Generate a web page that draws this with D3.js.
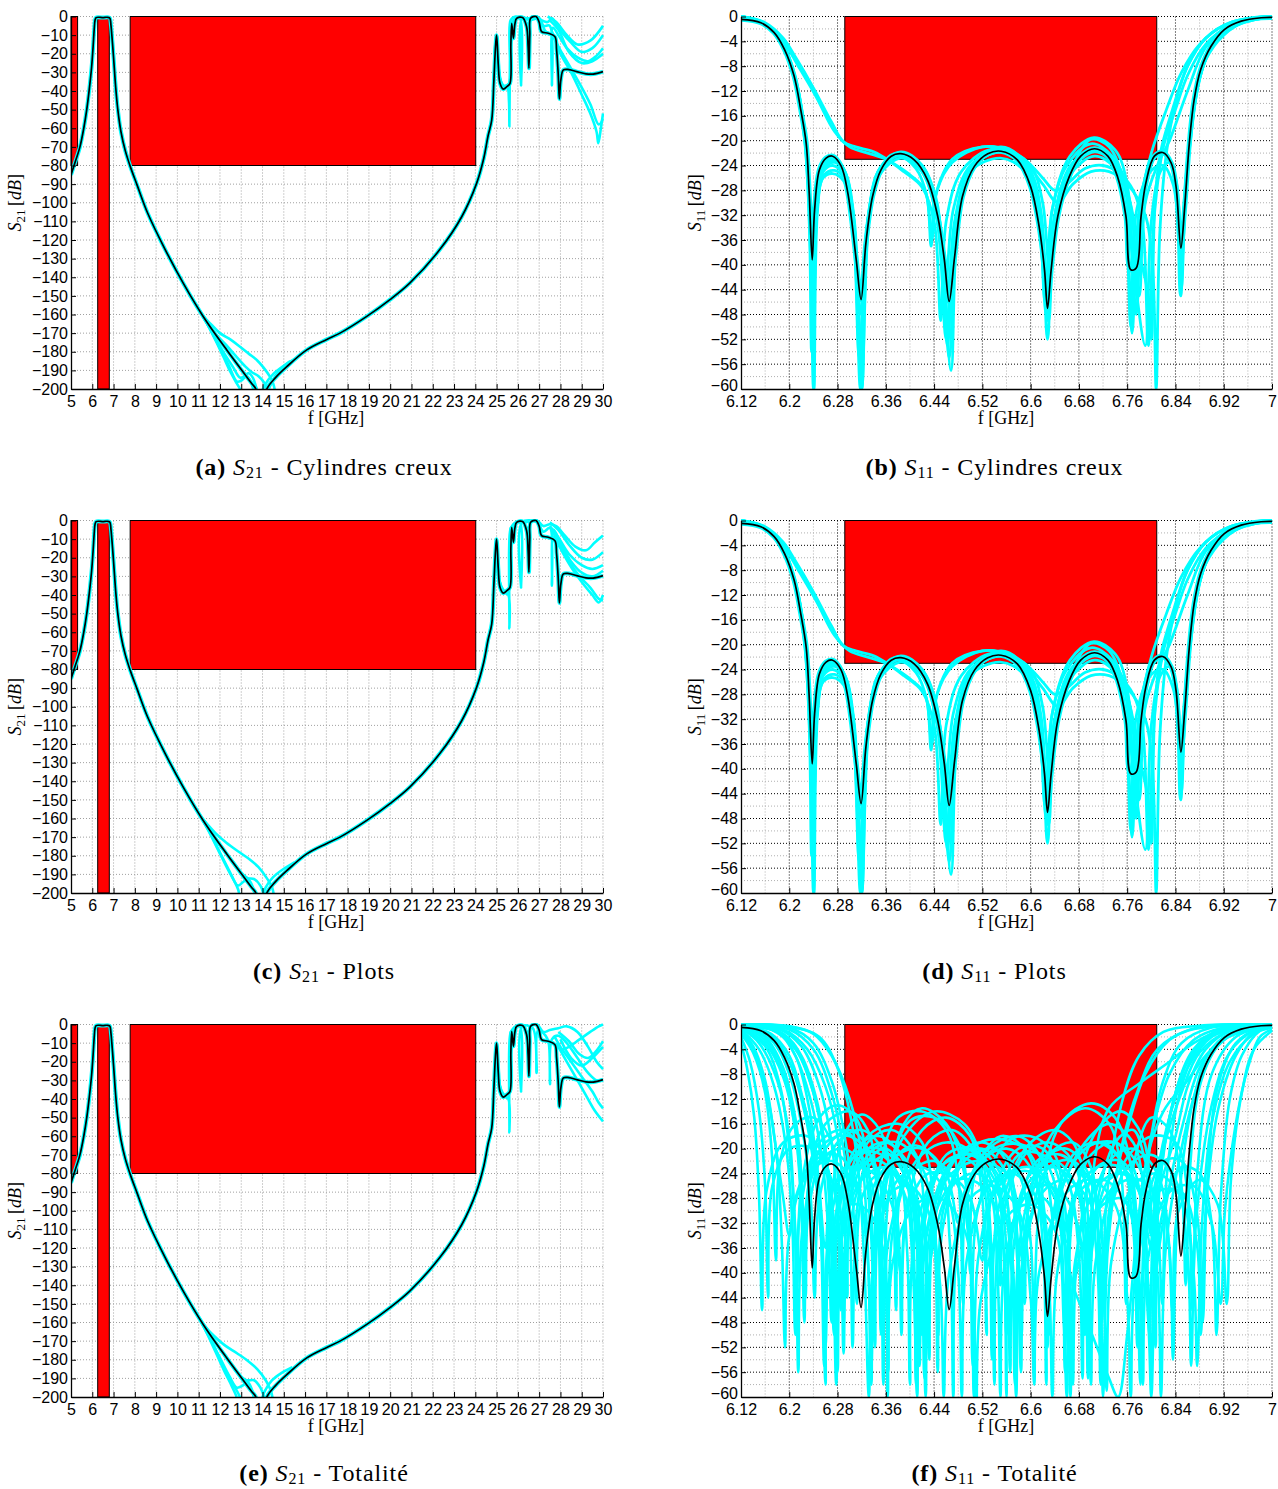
<!DOCTYPE html>
<html><head><meta charset="utf-8">
<script src="https://cdn.jsdelivr.net/npm/d3@7"></script>
<style>body{margin:0;background:#fff}svg{display:block}</style>
</head><body>
<svg id="c" width="1278" height="1489"></svg>
<script>
// ---------------- tick values & labels ----------------
const s21XTicks=[5,6,7,8,9,10,11,12,13,14,15,16,17,18,19,20,21,22,23,24,25,26,27,28,29,30];
const s21XLabels=['5','6','7','8','9','10','11','12','13','14','15','16','17','18','19','20','21','22','23','24','25','26','27','28','29','30'];
const s21YTicks=[0,-10,-20,-30,-40,-50,-60,-70,-80,-90,-100,-110,-120,-130,-140,-150,-160,-170,-180,-190,-200];
const s21YLabels=['0','−10','−20','−30','−40','−50','−60','−70','−80','−90','−100','−110','−120','−130','−140','−150','−160','−170','−180','−190','−200'];
const s11XTicks=[6.12,6.2,6.28,6.36,6.44,6.52,6.6,6.68,6.76,6.84,6.92,7];
const s11XLabels=['6.12','6.2','6.28','6.36','6.44','6.52','6.6','6.68','6.76','6.84','6.92','7'];
const s11XMinor=[6.16,6.24,6.32,6.4,6.48,6.56,6.64,6.72,6.8,6.88,6.96];
const s11YTicks=[0,-4,-8,-12,-16,-20,-24,-28,-32,-36,-40,-44,-48,-52,-56,-60];
const s11YLabels=['0','−4','−8','−12','−16','−20','−24','−28','−32','−36','−40','−44','−48','−52','−56','−60'];
const s11YMinor=[-2,-6,-10,-14,-18,-22,-26,-30,-34,-38,-42,-46,-50,-54,-58];

// ---------------- masks [f1, f2, dBtop, dBbottom] ----------------
const s21Masks=[[5,5.31,0,-80],[6.255,6.8,-1,-200],[7.78,24.02,0,-80]];
const s11Masks=[[6.292,6.809,0,-23]];

// ---------------- nominal responses (black) ----------------
const s21Nominal=[[5.0,-85],[5.2,-78],[5.42,-70],[5.6,-60],[5.74,-50],[5.86,-39],[5.97,-27],[6.04,-16],[6.09,-7],[6.13,-2],[6.18,-0.6],[6.3,-0.4],[6.5,-0.6],[6.7,-0.4],[6.82,-0.8],[6.88,-5],[6.94,-13],[7.0,-22],[7.1,-38],[7.2,-50],[7.35,-62],[7.55,-72],[7.8,-81],[8.09,-90],[8.6,-105.5],[9.42,-125],[10.28,-143.3],[11.22,-161.2],[12.32,-179.1],[13.49,-197],[13.69,-200],[13.95,-212],[14.2,-200],[14.6,-194],[15.14,-188],[16.08,-179],[17.0,-173.5],[17.64,-170],[18.9,-161],[19.99,-152],[20.93,-143],[22.34,-125],[23.36,-107.5],[24.06,-89.6],[24.4,-76],[24.6,-64],[24.77,-55.6],[24.87,-35],[24.95,-16],[25.0,-10],[25.08,-26],[25.16,-35.9],[25.31,-39],[25.5,-37.5],[25.63,-35.9],[25.67,-15],[25.71,-3.7],[25.79,-11.7],[25.86,-4],[25.94,-1],[26.22,-0.5],[26.41,-5.5],[26.48,-16],[26.52,-27.8],[26.56,-10],[26.6,-1],[26.85,0],[27.0,-3],[27.11,-8.1],[27.43,-9],[27.74,-10.8],[27.82,-18],[27.9,-32],[27.95,-44.3],[28.02,-34],[28.14,-28.7],[28.4,-28.5],[28.76,-29.6],[29.2,-30.8],[29.54,-30.9],[30.0,-29.6]];

const s11Nominal=[[6.12,-0.45],[6.153,-1.0],[6.175,-2.6],[6.192,-5.3],[6.208,-9.6],[6.219,-15],[6.228,-20.4],[6.233,-28.4],[6.238,-39.2],[6.242,-31.1],[6.25,-24.7],[6.261,-22.8],[6.272,-22.5],[6.286,-24.1],[6.297,-28.4],[6.311,-39.2],[6.319,-45.6],[6.327,-36.5],[6.338,-29],[6.352,-24.7],[6.369,-22.5],[6.385,-22.1],[6.407,-23.1],[6.429,-26.3],[6.446,-32.2],[6.457,-39.2],[6.465,-45.9],[6.474,-38.7],[6.487,-29],[6.507,-24.1],[6.529,-22.1],[6.551,-21.7],[6.578,-23.1],[6.6,-27.4],[6.614,-33.8],[6.623,-40.8],[6.628,-47],[6.634,-40.8],[6.645,-32.2],[6.664,-25.8],[6.683,-22.5],[6.706,-21.3],[6.728,-22.5],[6.744,-25.8],[6.758,-32.2],[6.766,-40.8],[6.775,-40.5],[6.783,-32.2],[6.791,-26.8],[6.805,-22.5],[6.819,-21.9],[6.833,-23.6],[6.841,-27.4],[6.849,-37.3],[6.855,-31.1],[6.863,-20.4],[6.871,-13.4],[6.882,-8.5],[6.899,-4.8],[6.921,-2.1],[6.949,-0.75],[6.982,-0.2],[7.0,-0.15]];

// ---------------- cyan Monte-Carlo responses: S21 ----------------
const s21BottomA=[
 [[10.9,-155],[11.2,-161],[11.38,-164.7],[11.8,-174],[12.16,-182.7],[12.5,-191],[12.79,-197],[12.94,-200],[13.0,-203]],
 [[11.1,-159],[11.3,-162],[11.6,-165.5],[12.0,-170],[12.5,-173.5],[12.94,-177.3],[13.35,-181],[13.73,-184.4],[14.05,-188.5],[14.35,-193.4],[14.5,-197],[14.6,-202]],
 [[11.1,-159],[11.4,-164],[11.8,-170.5],[12.3,-176.5],[12.8,-183],[13.2,-188],[13.5,-191],[13.8,-193],[14.1,-197],[14.3,-203]],
 [[11.2,-161],[11.6,-169],[12.1,-179],[12.6,-188],[12.95,-194],[13.15,-193],[13.35,-191.5],[13.55,-194],[13.7,-199],[13.8,-203]],
 [[11.15,-160],[11.5,-167],[12.0,-178],[12.4,-187],[12.8,-196],[13.0,-195.5],[13.25,-193],[13.45,-196],[13.6,-202]],
 [[13.9,-204],[14.1,-198],[14.5,-192],[15.0,-187.5],[15.5,-184]],
 [[14.2,-203],[14.45,-196],[14.8,-190],[15.3,-185]]
];
const s21HfA=[
 [[24.9,-20],[25.0,-10],[25.1,-30],[25.3,-38],[25.5,-38],[25.58,-45],[25.6,-59],[25.63,-20],[25.66,-3],[25.75,-9],[25.9,-1],[26.2,-0.5],[26.4,-4],[26.5,-18],[26.58,-1],[26.9,0],[27.1,-2],[27.4,-3],[27.6,-1],[27.8,-4],[28.1,-9],[28.5,-14],[29.0,-19],[29.5,-17],[30,-10]],
 [[25.0,-10],[25.1,-28],[25.3,-37],[25.58,-36],[25.66,-2],[25.9,0],[26.1,-1],[26.15,-37],[26.2,-1],[26.5,-1],[26.9,-1],[27.2,-5],[27.5,-5],[27.6,-37],[27.65,-6],[27.9,-10],[28.3,-17],[28.8,-22],[29.3,-24],[29.7,-21],[30,-17]],
 [[25.0,-11],[25.15,-33],[25.4,-38],[25.6,-37],[25.68,-5],[25.9,-1],[26.3,-1],[26.6,-2],[27.0,-1],[27.3,-8],[27.6,-10],[27.8,-14],[28.0,-20],[28.5,-30],[29.0,-42],[29.4,-52],[29.7,-62],[29.78,-68],[29.9,-60],[30,-52]],
 [[27.6,-8],[27.9,-16],[28.4,-26],[28.9,-36],[29.4,-47],[29.8,-58],[30,-55]],
 [[27.5,-2],[27.9,-7],[28.4,-19],[29.0,-25],[29.5,-24],[30,-20]],
 [[27.4,0],[27.8,-3],[28.3,-10],[28.8,-15],[29.4,-13],[30,-5]]
];
const s21BottomC=[
 [[10.9,-155],[11.2,-161],[11.45,-166],[11.9,-176],[12.3,-185],[12.65,-193],[12.85,-198],[12.95,-203]],
 [[11.1,-159],[11.4,-163],[11.8,-168],[12.3,-173],[12.9,-178],[13.4,-182],[13.8,-186],[14.2,-192],[14.45,-197],[14.55,-203]],
 [[11.2,-161],[11.6,-168],[12.1,-176],[12.6,-183],[13.0,-189],[13.3,-192],[13.6,-192.5],[13.9,-196],[14.1,-203]],
 [[11.15,-160],[11.55,-168.5],[12.05,-180],[12.5,-190],[12.85,-196],[13.1,-194],[13.35,-193],[13.55,-197],[13.65,-203]],
 [[13.95,-204],[14.15,-197],[14.5,-191.5],[15.0,-187],[15.5,-183.5]]
];
const s21HfC=[
 [[25.0,-10],[25.1,-30],[25.3,-38],[25.55,-40],[25.6,-58],[25.65,-4],[25.8,-9],[25.95,-1],[26.3,-1],[26.9,0],[27.2,-3],[27.5,-2],[27.8,-3],[28.2,-8],[28.7,-14],[29.2,-16],[29.6,-12],[30,-8]],
 [[25.0,-11],[25.15,-33],[25.4,-38],[25.6,-37],[25.68,-4],[25.9,-1],[26.1,-1],[26.15,-36],[26.2,-1],[26.9,-1],[27.2,-6],[27.5,-4],[27.6,-35],[27.68,-5],[28.0,-12],[28.5,-22],[29.0,-28],[29.5,-30],[30,-27]],
 [[27.6,-5],[27.9,-12],[28.4,-22],[28.9,-30],[29.4,-36],[29.8,-42],[30,-43]],
 [[27.7,-8],[28.0,-15],[28.5,-25],[29.0,-33],[29.5,-40],[29.8,-44],[30,-40]],
 [[27.5,-1],[27.9,-5],[28.4,-13],[29.0,-20],[29.5,-21],[30,-17]],
 [[27.5,-3],[27.9,-9],[28.4,-18],[29,-24],[29.5,-26],[30,-24]]
];
const s21BottomE=[
 [[10.8,-153],[11.1,-159],[11.4,-166],[11.8,-176],[12.2,-186],[12.55,-194],[12.75,-199],[12.85,-203]],
 [[11.0,-157],[11.3,-162],[11.7,-167],[12.2,-172],[12.8,-176.5],[13.3,-180.5],[13.75,-185],[14.15,-191],[14.4,-197],[14.5,-203]],
 [[11.1,-159],[11.5,-166],[12.0,-174],[12.5,-182],[12.9,-188],[13.25,-191],[13.6,-191],[13.9,-195],[14.15,-203]],
 [[11.1,-159.5],[11.5,-168],[12.0,-179],[12.45,-189],[12.8,-195],[13.05,-194],[13.3,-192],[13.5,-196],[13.62,-203]],
 [[11.2,-161],[11.6,-170],[12.1,-182],[12.5,-191],[12.9,-199],[13.0,-203]],
 [[13.9,-204],[14.1,-197],[14.45,-191],[14.9,-187],[15.4,-184]]
];
const s21HfE=[
 [[25.0,-10],[25.1,-29],[25.3,-38],[25.55,-40],[25.6,-58],[25.65,-4],[25.8,-9],[25.95,-1],[26.3,-1],[26.5,-14],[26.6,-1],[26.9,0],[27.2,-4],[27.5,-3],[27.9,-2],[28.3,-1],[28.8,-4],[29.3,-12],[29.7,-20],[30,-24]],
 [[25.0,-11],[25.15,-33],[25.4,-38],[25.6,-37],[25.68,-4],[25.9,-1],[26.1,-1],[26.15,-36],[26.2,-1],[26.7,-2],[26.88,-26],[26.95,-3],[27.3,-6],[27.45,-10],[27.51,-32],[27.6,-8],[27.9,-6],[28.3,-10],[28.8,-18],[29.3,-26],[29.7,-30],[30,-30]],
 [[27.7,-6],[28.0,-12],[28.5,-20],[29.0,-28],[29.5,-36],[29.8,-42],[30,-45]],
 [[27.8,-10],[28.2,-18],[28.7,-28],[29.2,-38],[29.6,-46],[30,-52]],
 [[28.0,-14],[28.4,-12],[28.9,-8],[29.4,-4],[29.8,-1],[30,0]],
 [[27.9,-4],[28.4,-9],[28.9,-16],[29.3,-18],[29.7,-14],[30,-9]],
 [[28.0,-8],[28.5,-18],[29.0,-22],[29.5,-18],[30,-12]]
];

// ---------------- cyan Monte-Carlo responses: S11 (b, d) ----------------
const s11CyanBD=[
 [[6.12,0],[6.16,-1.2],[6.19,-4.6],[6.21,-10],[6.225,-18],[6.234,-30],[6.24,-60],[6.246,-30],[6.256,-24],[6.272,-22.8],[6.29,-24.5],[6.306,-32],[6.32,-60],[6.332,-32],[6.35,-25],[6.385,-22.3],[6.42,-24.5],[6.448,-32],[6.462,-53],[6.476,-33],[6.5,-24.5],[6.55,-21.8],[6.59,-24],[6.615,-33],[6.628,-49],[6.64,-33],[6.665,-25],[6.706,-21.8],[6.74,-24],[6.758,-32],[6.768,-51],[6.78,-31],[6.8,-23.5],[6.82,-22],[6.837,-25],[6.845,-32],[6.849,-45],[6.855,-30],[6.863,-20],[6.872,-13],[6.885,-7.5],[6.91,-3],[6.95,-0.8],[7,0]],
 [[6.12,0],[6.16,-1.0],[6.19,-3.5],[6.21,-6.5],[6.24,-11.5],[6.27,-17],[6.29,-20.2],[6.31,-21],[6.34,-21.8],[6.37,-23.5],[6.4,-25.5],[6.425,-28],[6.436,-36],[6.445,-28],[6.47,-23.5],[6.52,-21],[6.56,-21.5],[6.6,-24],[6.62,-30],[6.632,-42],[6.644,-30],[6.67,-23.5],[6.71,-21.5],[6.745,-24],[6.765,-30],[6.78,-45],[6.79,-30],[6.81,-24],[6.83,-20],[6.86,-12],[6.89,-5],[6.93,-1.5],[7,0]],
 [[6.12,0],[6.16,-1.1],[6.19,-4],[6.215,-8],[6.245,-13],[6.275,-18.5],[6.3,-21],[6.33,-22],[6.36,-23],[6.39,-25],[6.42,-27.5],[6.44,-33],[6.451,-49],[6.46,-33],[6.485,-25],[6.53,-21.5],[6.57,-22],[6.6,-25],[6.618,-32],[6.626,-46],[6.636,-31],[6.66,-24],[6.7,-20.5],[6.735,-22.5],[6.76,-29],[6.775,-48],[6.785,-30],[6.8,-23],[6.82,-22],[6.84,-26],[6.85,-40],[6.857,-28],[6.866,-19],[6.88,-10],[6.9,-5],[6.94,-1.5],[7,0]],
 [[6.12,0],[6.16,-1.3],[6.19,-4.8],[6.21,-10.5],[6.225,-19],[6.234,-32],[6.239,-55],[6.245,-32],[6.258,-25.5],[6.275,-24.8],[6.29,-26],[6.306,-34],[6.318,-60],[6.33,-33],[6.35,-25],[6.38,-22.5],[6.41,-24.5],[6.428,-29],[6.435,-37],[6.442,-29],[6.47,-23],[6.52,-21],[6.56,-21.5],[6.6,-25],[6.618,-33],[6.63,-49],[6.642,-32],[6.67,-24],[6.7,-19.8],[6.73,-21],[6.755,-27],[6.77,-40],[6.79,-53],[6.8,-33],[6.815,-25],[6.83,-23.5],[6.84,-27],[6.848,-45],[6.855,-29],[6.866,-18],[6.88,-10],[6.9,-5],[6.94,-1.5],[7,0]],
 [[6.12,0],[6.16,-1.2],[6.19,-4.6],[6.21,-10],[6.225,-18.5],[6.234,-31],[6.24,-45],[6.246,-31],[6.256,-25],[6.272,-24],[6.29,-25.5],[6.306,-33],[6.319,-52],[6.331,-33],[6.35,-25],[6.385,-22],[6.42,-24],[6.445,-30],[6.458,-45],[6.472,-31],[6.5,-24],[6.55,-21.2],[6.59,-23],[6.62,-26],[6.64,-28],[6.66,-27],[6.69,-24.5],[6.72,-24],[6.75,-25.5],[6.77,-28],[6.785,-33],[6.795,-53],[6.805,-32],[6.82,-21],[6.84,-15],[6.86,-9.5],[6.89,-4.5],[6.93,-1.5],[7,0]],
 [[6.12,0],[6.16,-1.2],[6.19,-4.5],[6.21,-9.8],[6.226,-19],[6.235,-33],[6.241,-60],[6.247,-31],[6.258,-24.5],[6.275,-23.5],[6.292,-25],[6.308,-33],[6.32,-60],[6.332,-33],[6.35,-24.5],[6.385,-21.8],[6.42,-24],[6.448,-33],[6.468,-57],[6.48,-33],[6.505,-24],[6.55,-21.5],[6.59,-23.5],[6.62,-27],[6.645,-30],[6.67,-27],[6.7,-25],[6.73,-25],[6.76,-27],[6.79,-32],[6.802,-40],[6.808,-60],[6.814,-35],[6.825,-22],[6.84,-14],[6.86,-8],[6.89,-3.5],[6.93,-1],[7,0]],
 [[6.12,0],[6.16,-1.3],[6.19,-4.7],[6.21,-10.2],[6.226,-19.5],[6.235,-33],[6.24,-52],[6.246,-31],[6.257,-24.5],[6.273,-23.3],[6.29,-25],[6.305,-31],[6.317,-48],[6.33,-33],[6.35,-24.5],[6.385,-22],[6.42,-24],[6.447,-32],[6.463,-50],[6.476,-34],[6.5,-24.5],[6.55,-21],[6.585,-23],[6.612,-31],[6.624,-46],[6.636,-31],[6.665,-22.5],[6.705,-19.5],[6.74,-21.5],[6.76,-27],[6.772,-45],[6.782,-30],[6.8,-22],[6.825,-15],[6.85,-9],[6.88,-4.5],[6.92,-1.5],[7,0]],
 [[6.12,0],[6.16,-1.3],[6.19,-4.8],[6.21,-10.5],[6.225,-19.5],[6.233,-32],[6.237,-54],[6.244,-32],[6.256,-26],[6.272,-25.3],[6.29,-26.5],[6.305,-33],[6.316,-55],[6.33,-33],[6.35,-25.5],[6.385,-22.8],[6.42,-25],[6.445,-33],[6.46,-52],[6.474,-33],[6.5,-25],[6.55,-22.8],[6.59,-25],[6.614,-34],[6.626,-48],[6.638,-33],[6.665,-25.5],[6.706,-22.5],[6.74,-24.5],[6.756,-31],[6.766,-50],[6.776,-31],[6.8,-24.8],[6.82,-24],[6.836,-27],[6.845,-34],[6.85,-44],[6.856,-30],[6.865,-19.5],[6.876,-12],[6.89,-7],[6.92,-3],[6.96,-0.6],[7,0]],
 [[6.12,0],[6.16,-1.2],[6.19,-4.6],[6.21,-10],[6.225,-18.5],[6.234,-31],[6.239,-48],[6.245,-31],[6.256,-24.5],[6.272,-23],[6.29,-24.5],[6.306,-32],[6.319,-58],[6.33,-33],[6.35,-24.5],[6.385,-22.2],[6.42,-24.2],[6.448,-33],[6.465,-55],[6.478,-33],[6.5,-24.5],[6.55,-21.8],[6.59,-23.5],[6.615,-32],[6.628,-52],[6.64,-32],[6.665,-24.5],[6.706,-21.2],[6.74,-23.5],[6.765,-30],[6.78,-38],[6.795,-45],[6.8,-52],[6.806,-30],[6.815,-22],[6.835,-15],[6.86,-8],[6.89,-3.5],[6.93,-1],[7,0]]
];

// ---------------- cyan Monte-Carlo responses: S11 (f, totality) ----------------
const s11CyanF=[
 [[6.12,-0.3],[6.16,-2],[6.19,-7],[6.21,-15],[6.22,-24],[6.227,-44],[6.234,-24],[6.26,-16],[6.3,-14],[6.33,-17],[6.345,-26],[6.352,-50],[6.36,-26],[6.4,-15.5],[6.44,-15],[6.48,-19],[6.497,-30],[6.504,-55],[6.512,-30],[6.56,-19],[6.6,-18],[6.64,-21],[6.655,-32],[6.662,-52],[6.67,-30],[6.71,-17],[6.75,-14],[6.785,-18],[6.8,-30],[6.806,-46],[6.814,-26],[6.84,-11],[6.87,-4],[6.91,-1],[6.96,-0.2],[7,0]],
 [[6.12,0],[6.2,-0.8],[6.24,-4],[6.27,-11],[6.29,-20],[6.3,-30],[6.305,-52],[6.312,-30],[6.33,-22],[6.36,-20],[6.39,-24],[6.405,-34],[6.41,-58],[6.418,-33],[6.45,-23],[6.5,-21],[6.54,-25],[6.555,-36],[6.56,-60],[6.566,-36],[6.6,-24],[6.64,-22],[6.675,-26],[6.69,-38],[6.695,-57],[6.702,-36],[6.73,-25],[6.76,-24],[6.775,-30],[6.782,-46],[6.79,-28],[6.8,-18],[6.82,-9],[6.85,-3],[6.9,-0.5],[7,0]],
 [[6.12,-1.5],[6.14,-4.5],[6.16,-11],[6.172,-22],[6.178,-38],[6.185,-22],[6.21,-16],[6.24,-15],[6.27,-19],[6.285,-30],[6.29,-48],[6.297,-30],[6.33,-19],[6.37,-17],[6.41,-21],[6.425,-33],[6.432,-54],[6.44,-32],[6.48,-21],[6.52,-19],[6.56,-22],[6.578,-34],[6.585,-50],[6.592,-32],[6.63,-21],[6.67,-19],[6.7,-23],[6.712,-35],[6.718,-48],[6.726,-28],[6.75,-13],[6.78,-5],[6.82,-1.2],[6.88,-0.2],[7,0]],
 [[6.12,0],[6.2,-0.3],[6.24,-1.5],[6.27,-5],[6.3,-12],[6.32,-21],[6.33,-36],[6.336,-55],[6.344,-33],[6.37,-22],[6.41,-19.5],[6.45,-23],[6.466,-35],[6.472,-60],[6.48,-34],[6.52,-22],[6.56,-20],[6.6,-23],[6.62,-35],[6.626,-58],[6.633,-33],[6.67,-21],[6.71,-19],[6.75,-22],[6.77,-33],[6.777,-52],[6.785,-32],[6.82,-22],[6.85,-22],[6.875,-30],[6.885,-48],[6.893,-25],[6.91,-10],[6.94,-3],[6.98,-0.5],[7,-0.2]],
 [[6.12,-0.6],[6.15,-3],[6.18,-9],[6.2,-18],[6.208,-30],[6.213,-42],[6.22,-26],[6.25,-15],[6.28,-13],[6.31,-15],[6.33,-22],[6.34,-38],[6.348,-24],[6.38,-15],[6.42,-14],[6.46,-17],[6.48,-25],[6.488,-45],[6.496,-27],[6.54,-20],[6.59,-19.5],[6.63,-23],[6.65,-33],[6.657,-56],[6.665,-32],[6.7,-21],[6.74,-19],[6.77,-23],[6.79,-34],[6.797,-50],[6.805,-30],[6.83,-15],[6.86,-6],[6.9,-1.5],[6.95,-0.3],[7,0]],
 [[6.12,0],[6.17,-0.8],[6.21,-4],[6.24,-11],[6.26,-20],[6.27,-32],[6.275,-50],[6.282,-30],[6.31,-23],[6.35,-22],[6.39,-27],[6.405,-40],[6.412,-60],[6.42,-38],[6.46,-25],[6.51,-22],[6.56,-24],[6.58,-30],[6.59,-45],[6.598,-28],[6.64,-17],[6.69,-13.5],[6.73,-16],[6.75,-24],[6.758,-45],[6.766,-25],[6.8,-15],[6.83,-17],[6.85,-26],[6.857,-42],[6.865,-22],[6.88,-10],[6.91,-3.5],[6.95,-0.8],[7,0]],
 [[6.12,-0.2],[6.17,-2],[6.2,-6],[6.225,-14],[6.245,-26],[6.255,-38],[6.26,-58],[6.268,-36],[6.3,-29],[6.33,-30],[6.355,-36],[6.363,-60],[6.372,-38],[6.41,-29],[6.45,-28],[6.49,-33],[6.505,-45],[6.51,-62],[6.518,-44],[6.56,-31],[6.6,-29],[6.64,-33],[6.655,-48],[6.66,-60],[6.668,-44],[6.71,-30],[6.75,-28],[6.78,-33],[6.795,-48],[6.8,-60],[6.808,-40],[6.83,-26],[6.855,-15],[6.88,-7],[6.92,-2],[6.97,-0.3],[7,0]],
 [[6.12,-0.5],[6.16,-3],[6.19,-8.5],[6.21,-17],[6.22,-28],[6.225,-45],[6.232,-26],[6.26,-19],[6.3,-18],[6.34,-22],[6.358,-34],[6.364,-56],[6.372,-33],[6.41,-22],[6.46,-19],[6.51,-21],[6.54,-27],[6.55,-42],[6.558,-27],[6.6,-19],[6.64,-17],[6.67,-19],[6.69,-25],[6.698,-40],[6.706,-22],[6.73,-13.5],[6.78,-9.5],[6.83,-6],[6.87,-3],[6.92,-0.8],[7,0]],
 [[6.12,-2],[6.135,-6],[6.15,-14],[6.16,-26],[6.165,-44],[6.172,-26],[6.2,-20],[6.24,-20],[6.27,-25],[6.285,-36],[6.29,-53],[6.298,-34],[6.33,-23],[6.37,-21],[6.4,-25],[6.415,-36],[6.42,-50],[6.428,-33],[6.47,-22],[6.52,-20],[6.56,-24],[6.578,-38],[6.584,-56],[6.592,-36],[6.63,-23],[6.67,-22],[6.71,-28],[6.722,-45],[6.73,-30],[6.76,-17],[6.79,-8],[6.83,-2.5],[6.88,-0.4],[7,0]],
 [[6.12,0],[6.18,-0.6],[6.22,-3.5],[6.25,-10],[6.27,-19],[6.28,-30],[6.285,-46],[6.292,-28],[6.33,-18],[6.38,-16],[6.42,-19],[6.44,-30],[6.447,-50],[6.455,-30],[6.5,-20],[6.55,-18.5],[6.6,-21],[6.625,-32],[6.632,-50],[6.64,-30],[6.69,-20],[6.74,-19],[6.78,-23],[6.8,-33],[6.807,-52],[6.815,-32],[6.85,-23],[6.88,-24],[6.9,-32],[6.908,-50],[6.915,-28],[6.93,-12],[6.95,-5],[6.98,-1],[7,-0.3]],
 [[6.12,-0.4],[6.16,-2.5],[6.19,-8],[6.21,-17],[6.22,-30],[6.225,-48],[6.232,-30],[6.26,-20],[6.3,-17],[6.33,-20],[6.35,-30],[6.356,-48],[6.364,-28],[6.39,-16],[6.42,-13.5],[6.46,-16],[6.49,-24],[6.5,-40],[6.508,-24],[6.55,-18],[6.59,-20],[6.62,-30],[6.628,-52],[6.636,-32],[6.68,-21],[6.72,-19],[6.76,-24],[6.775,-37],[6.782,-58],[6.79,-35],[6.82,-20],[6.85,-11],[6.88,-4.5],[6.93,-1],[7,0]],
 [[6.12,-0.2],[6.17,-1.5],[6.2,-5],[6.22,-11],[6.24,-20],[6.25,-27],[6.26,-36],[6.27,-27],[6.3,-23],[6.34,-24],[6.37,-29],[6.385,-40],[6.395,-30],[6.43,-24],[6.47,-24.5],[6.5,-28],[6.52,-38],[6.53,-29],[6.57,-24],[6.61,-24],[6.64,-28],[6.66,-35],[6.67,-28],[6.71,-23],[6.75,-23],[6.78,-27],[6.8,-36],[6.812,-27],[6.84,-18],[6.86,-10],[6.89,-4],[6.93,-1],[7,0]],
 [[6.12,0],[6.19,-0.8],[6.23,-4],[6.26,-10],[6.28,-18],[6.29,-28],[6.296,-44],[6.304,-27],[6.34,-20],[6.38,-19],[6.42,-23],[6.44,-34],[6.446,-56],[6.454,-33],[6.49,-22],[6.54,-20],[6.58,-24],[6.6,-35],[6.606,-52],[6.614,-30],[6.65,-16],[6.7,-12.7],[6.74,-15],[6.77,-25],[6.778,-44],[6.786,-25],[6.82,-14],[6.86,-9],[6.89,-5],[6.93,-1.5],[7,0]],
 [[6.12,0],[6.2,-0.3],[6.25,-2],[6.28,-7],[6.3,-14],[6.315,-24],[6.325,-40],[6.332,-60],[6.34,-38],[6.37,-27],[6.4,-26],[6.43,-30],[6.45,-42],[6.456,-60],[6.465,-40],[6.5,-28],[6.54,-26],[6.58,-30],[6.6,-44],[6.606,-58],[6.614,-40],[6.66,-27],[6.7,-25],[6.74,-29],[6.76,-44],[6.766,-60],[6.774,-40],[6.81,-27],[6.85,-27],[6.875,-35],[6.882,-50],[6.89,-30],[6.91,-14],[6.94,-5],[6.97,-1.2],[7,-0.3]],
 [[6.12,-0.8],[6.15,-4],[6.175,-10],[6.195,-20],[6.205,-32],[6.21,-50],[6.218,-30],[6.25,-19],[6.29,-17],[6.32,-21],[6.335,-33],[6.342,-52],[6.35,-30],[6.39,-18],[6.44,-14],[6.49,-16],[6.52,-22],[6.535,-36],[6.54,-58],[6.548,-34],[6.59,-21],[6.63,-19],[6.67,-22],[6.69,-32],[6.697,-55],[6.705,-32],[6.74,-19],[6.77,-17],[6.79,-22],[6.81,-32],[6.818,-45],[6.826,-24],[6.85,-10],[6.88,-3.5],[6.93,-0.6],[7,0]],
 [[6.12,0],[6.18,-1],[6.21,-5],[6.235,-12],[6.255,-22],[6.265,-34],[6.27,-48],[6.278,-30],[6.31,-21],[6.35,-20],[6.39,-24],[6.41,-34],[6.416,-55],[6.424,-32],[6.46,-22],[6.51,-21],[6.55,-25],[6.57,-38],[6.576,-55],[6.584,-36],[6.62,-28],[6.65,-33],[6.67,-42],[6.69,-47],[6.71,-52],[6.73,-57],[6.745,-60],[6.76,-50],[6.78,-30],[6.8,-18],[6.83,-8],[6.87,-2.5],[6.92,-0.5],[7,0]],
 [[6.12,-1],[6.14,-3.5],[6.16,-9],[6.175,-18],[6.19,-28],[6.2,-34],[6.21,-28],[6.24,-22],[6.28,-21],[6.31,-25],[6.33,-33],[6.34,-26],[6.38,-21],[6.42,-20],[6.46,-24],[6.48,-32],[6.49,-27],[6.53,-20],[6.58,-18],[6.62,-22],[6.64,-33],[6.65,-27],[6.69,-19],[6.73,-16],[6.77,-19],[6.79,-28],[6.8,-34],[6.81,-24],[6.83,-15],[6.86,-7],[6.9,-2],[6.95,-0.4],[7,0]],
 [[6.12,-0.1],[6.18,-1.2],[6.21,-5],[6.23,-12],[6.245,-22],[6.253,-35],[6.258,-55],[6.266,-33],[6.3,-22],[6.34,-20.5],[6.38,-24],[6.395,-36],[6.4,-58],[6.408,-34],[6.45,-23],[6.49,-21.5],[6.53,-26],[6.545,-40],[6.55,-60],[6.558,-38],[6.6,-25],[6.64,-23],[6.68,-27],[6.695,-42],[6.7,-58],[6.708,-38],[6.75,-23],[6.8,-18],[6.84,-19],[6.86,-27],[6.868,-46],[6.876,-24],[6.9,-8],[6.94,-2],[7,-0.2]],
 [[6.12,-1.2],[6.145,-5],[6.165,-12],[6.18,-22],[6.188,-36],[6.193,-52],[6.2,-34],[6.23,-24],[6.27,-22],[6.31,-26],[6.33,-38],[6.336,-58],[6.344,-36],[6.38,-25],[6.42,-23],[6.46,-27],[6.48,-40],[6.486,-60],[6.494,-38],[6.53,-26],[6.57,-24],[6.61,-28],[6.63,-42],[6.636,-60],[6.644,-40],[6.68,-27],[6.72,-25],[6.76,-29],[6.78,-42],[6.786,-58],[6.794,-38],[6.83,-27],[6.87,-26],[6.9,-32],[6.915,-45],[6.922,-30],[6.94,-16],[6.96,-7],[6.98,-2],[7,-0.8]],
 [[6.12,-0.1],[6.19,-1.5],[6.22,-5],[6.245,-12],[6.262,-22],[6.272,-36],[6.278,-58],[6.286,-35],[6.32,-25],[6.36,-23],[6.4,-27],[6.42,-40],[6.426,-60],[6.434,-38],[6.47,-26],[6.51,-24],[6.55,-28],[6.57,-42],[6.576,-60],[6.584,-40],[6.62,-27],[6.66,-25],[6.7,-29],[6.72,-42],[6.726,-59],[6.734,-38],[6.77,-26],[6.81,-24],[6.85,-28],[6.87,-40],[6.876,-55],[6.884,-32],[6.9,-16],[6.93,-6],[6.97,-1.5],[7,-0.5]],
 [[6.12,-3],[6.13,-7],[6.142,-15],[6.15,-28],[6.155,-46],[6.162,-27],[6.19,-19],[6.23,-18],[6.26,-22],[6.275,-35],[6.28,-56],[6.288,-33],[6.32,-21],[6.36,-19],[6.4,-23],[6.418,-36],[6.424,-57],[6.432,-34],[6.47,-22],[6.51,-20],[6.55,-24],[6.568,-37],[6.574,-58],[6.582,-35],[6.62,-22],[6.66,-20],[6.7,-25],[6.715,-40],[6.72,-60],[6.728,-36],[6.75,-20],[6.78,-10],[6.81,-4],[6.86,-1],[7,-0.1]],
 [[6.12,0],[6.2,-0.5],[6.24,-3],[6.27,-9],[6.29,-17],[6.305,-28],[6.312,-45],[6.32,-28],[6.35,-24],[6.39,-25],[6.42,-31],[6.432,-48],[6.44,-31],[6.48,-25],[6.52,-26],[6.55,-32],[6.56,-50],[6.57,-32],[6.61,-26],[6.65,-27],[6.68,-33],[6.69,-50],[6.7,-33],[6.74,-26],[6.78,-25],[6.82,-30],[6.835,-46],[6.845,-30],[6.88,-25],[6.91,-29],[6.925,-45],[6.932,-25],[6.95,-11],[6.97,-4],[7,-1]],
 [[6.12,-0.2],[6.17,-1.8],[6.2,-6],[6.225,-13],[6.245,-22],[6.255,-35],[6.26,-52],[6.268,-30],[6.29,-18],[6.32,-14.5],[6.35,-17],[6.37,-26],[6.377,-46],[6.385,-26],[6.42,-17],[6.46,-15],[6.5,-18],[6.52,-28],[6.527,-50],[6.535,-28],[6.58,-20],[6.62,-20],[6.65,-26],[6.665,-40],[6.67,-58],[6.678,-36],[6.71,-23],[6.75,-22],[6.78,-27],[6.795,-42],[6.8,-56],[6.808,-32],[6.83,-15],[6.86,-6],[6.9,-1.5],[7,0]],
 [[6.12,-0.6],[6.16,-3.5],[6.185,-10],[6.2,-20],[6.21,-33],[6.215,-56],[6.222,-33],[6.25,-22],[6.29,-20],[6.33,-24],[6.35,-36],[6.356,-58],[6.364,-35],[6.4,-24],[6.44,-22],[6.48,-26],[6.5,-38],[6.506,-60],[6.514,-37],[6.55,-25],[6.6,-23],[6.64,-27],[6.66,-40],[6.666,-60],[6.674,-38],[6.71,-26],[6.75,-24],[6.79,-28],[6.81,-40],[6.816,-60],[6.824,-36],[6.85,-20],[6.88,-9],[6.92,-2.5],[7,-0.2]],
 [[6.12,0],[6.18,-0.9],[6.215,-4.5],[6.24,-11],[6.258,-20],[6.268,-31],[6.274,-50],[6.282,-30],[6.31,-20],[6.35,-18],[6.39,-22],[6.41,-33],[6.416,-52],[6.424,-31],[6.46,-21],[6.5,-20],[6.54,-24],[6.56,-36],[6.566,-56],[6.574,-34],[6.61,-22],[6.65,-21],[6.69,-25],[6.71,-38],[6.716,-58],[6.724,-35],[6.76,-23],[6.8,-21],[6.84,-25],[6.86,-37],[6.866,-55],[6.874,-32],[6.9,-13],[6.93,-4.5],[6.97,-1],[7,-0.3]],
 [[6.12,-0.3],[6.17,-2.5],[6.2,-8],[6.22,-16],[6.235,-27],[6.242,-44],[6.25,-28],[6.28,-19],[6.32,-17],[6.36,-21],[6.38,-32],[6.386,-50],[6.394,-30],[6.43,-19],[6.47,-17],[6.51,-21],[6.53,-33],[6.536,-54],[6.544,-31],[6.58,-21],[6.62,-21],[6.66,-25],[6.68,-37],[6.686,-57],[6.694,-34],[6.73,-22],[6.77,-20],[6.81,-24],[6.83,-36],[6.836,-54],[6.844,-30],[6.87,-12],[6.9,-4],[6.95,-0.8],[7,0]]
];

// ---------------- panel definitions ----------------
const panels=[
 {type:'s21',col:0,row:0,letter:'a',sub:'21',title:'Cylindres creux',cyan:s21BottomA.concat(s21HfA),halo:4,cw:2.6},
 {type:'s11',col:1,row:0,letter:'b',sub:'11',title:'Cylindres creux',cyan:s11CyanBD,halo:5,cw:2.8},
 {type:'s21',col:0,row:1,letter:'c',sub:'21',title:'Plots',cyan:s21BottomC.concat(s21HfC),halo:4,cw:2.6},
 {type:'s11',col:1,row:1,letter:'d',sub:'11',title:'Plots',cyan:s11CyanBD,halo:5,cw:2.8},
 {type:'s21',col:0,row:2,letter:'e',sub:'21',title:'Totalité',cyan:s21BottomE.concat(s21HfE),halo:4,cw:2.6},
 {type:'s11',col:1,row:2,letter:'f',sub:'11',title:'Totalité',cyan:s11CyanF,halo:0,cw:2.6}
];

const svg=d3.select('#c');
const SANS="'Liberation Sans', Arial, Helvetica, sans-serif";
const SERIF="'Liberation Serif', 'Times New Roman', serif";
const cols=[{x0:71,x1:603,cx:336,cap:324,ytx:21},{x0:741,x1:1272,cx:1006,cap:994.5,ytx:701}];
const rowTops=[16.5,520.5,1024.5];
const capBase=[475,979,1481];
const plotH=372.5;
const CYAN='#00ffff';

panels.forEach(drawPanel);

function drawPanel(p,i){
  const s21=p.type==='s21';
  const c=cols[p.col], top=rowTops[p.row], bot=top+plotH;
  const xt=s21?s21XTicks:s11XTicks, xl=s21?s21XLabels:s11XLabels;
  const yt=s21?s21YTicks:s11YTicks, yl=s21?s21YLabels:s11YLabels;
  const x=d3.scaleLinear().domain([xt[0],xt[xt.length-1]]).range([c.x0,c.x1]);
  const y=d3.scaleLinear().domain([yt[yt.length-1],yt[0]]).range([bot,top]);
  const g=svg.append('g');
  const clipId='clip'+i;
  svg.append('clipPath').attr('id',clipId).append('rect')
    .attr('x',c.x0).attr('y',top-1.5).attr('width',c.x1-c.x0+1).attr('height',plotH+1.5);

  // minor grid (S11 panels)
  if(!s21){
    g.selectAll(null).data(s11XMinor).join('line')
      .attr('x1',d=>x(d)).attr('x2',d=>x(d)).attr('y1',top).attr('y2',bot)
      .attr('stroke','#b0b0b0').attr('stroke-width',1).attr('stroke-dasharray','1,2');
    g.selectAll(null).data(s11YMinor).join('line')
      .attr('x1',c.x0).attr('x2',c.x1).attr('y1',d=>y(d)).attr('y2',d=>y(d))
      .attr('stroke','#b0b0b0').attr('stroke-width',1).attr('stroke-dasharray','1,2');
  }
  const gcol=s21?'#a0a0a0':'#000';
  g.selectAll(null).data(xt.slice(1)).join('line')
    .attr('x1',d=>x(d)).attr('x2',d=>x(d)).attr('y1',top).attr('y2',bot)
    .attr('stroke',gcol).attr('stroke-width',1).attr('stroke-dasharray','1,2');
  g.selectAll(null).data(yt.slice(0,-1)).join('line')
    .attr('x1',c.x0).attr('x2',c.x1).attr('y1',d=>y(d)).attr('y2',d=>y(d))
    .attr('stroke',gcol).attr('stroke-width',1).attr('stroke-dasharray','1,2');

  // masks
  const masks=s21?s21Masks:s11Masks;
  g.selectAll(null).data(masks).join('rect')
    .attr('x',d=>x(d[0])).attr('y',d=>y(d[2]))
    .attr('width',d=>x(d[1])-x(d[0])).attr('height',d=>y(d[3])-y(d[2]))
    .attr('fill','#ff0000').attr('stroke','#000').attr('stroke-width',1);

  // curves
  const line=d3.line().x(d=>x(d[0])).y(d=>y(d[1])).curve(d3.curveCatmullRom.alpha(0.5));
  const cg=g.append('g').attr('clip-path',`url(#${clipId})`);
  const nominal=s21?s21Nominal:s11Nominal;
  if(p.halo) cg.append('path').attr('d',line(nominal)).attr('fill','none')
    .attr('stroke',CYAN).attr('stroke-width',p.halo).attr('stroke-linejoin','round');
  cg.selectAll(null).data(p.cyan).join('path').attr('d',line).attr('fill','none')
    .attr('stroke',CYAN).attr('stroke-width',p.cw).attr('stroke-linejoin','round');
  cg.append('path').attr('d',line(nominal)).attr('fill','none')
    .attr('stroke','#000').attr('stroke-width',1.7).attr('stroke-linejoin','round');

  // axes
  const ax=g.append('g').attr('transform',`translate(0,${bot})`)
    .call(d3.axisBottom(x).tickValues(xt).tickFormat((d,k)=>xl[k]).tickSizeInner(-5).tickSizeOuter(0).tickPadding(7));
  const ay=g.append('g').attr('transform',`translate(${c.x0},0)`)
    .call(d3.axisLeft(y).tickValues(yt).tickFormat((d,k)=>yl[k]).tickSizeInner(-5).tickSizeOuter(0).tickPadding(3));
  [ax,ay].forEach(a=>{
    a.attr('font-family',SANS).attr('font-size',16);
    a.select('.domain').attr('stroke','#000').attr('stroke-width',1.3);
    a.selectAll('.tick line').attr('stroke','#000');
    a.selectAll('.tick text').attr('fill','#000');
  });
  if(!s21){ ay.selectAll('.tick text').filter((d,k)=>k===yt.length-1).attr('dy','0.12em'); }

  // x title
  g.append('text').attr('x',c.cx).attr('y',bot+35).attr('text-anchor','middle')
    .attr('font-family',SERIF).attr('font-size',18).text('f [GHz]');
  // y title
  const yc=(top+bot)/2;
  const yTitle=g.append('text').attr('transform',`translate(${c.ytx},${yc}) rotate(-90)`)
    .attr('text-anchor','middle').attr('font-family',SERIF).attr('font-size',18);
  yTitle.append('tspan').attr('font-style','italic').text('S');
  yTitle.append('tspan').attr('font-size',13).attr('dy',4).text(p.sub);
  yTitle.append('tspan').attr('dy',-4).text('\u2009[');
  yTitle.append('tspan').attr('font-style','italic').text('dB');
  yTitle.append('tspan').text(']');

  // caption
  const cap=svg.append('text').attr('x',c.cap).attr('y',capBase[p.row]).attr('text-anchor','middle')
    .attr('font-family',SERIF).attr('font-size',24).attr('letter-spacing','0.9px').attr('fill','#000');
  cap.append('tspan').attr('font-weight','bold').text(`(${p.letter})`);
  cap.append('tspan').text(' ');
  cap.append('tspan').attr('font-style','italic').text('S');
  cap.append('tspan').attr('font-size',16).attr('dy',3).text(p.sub);
  cap.append('tspan').attr('dy',-3).text(' - '+p.title);
}
</script>
</body></html>
